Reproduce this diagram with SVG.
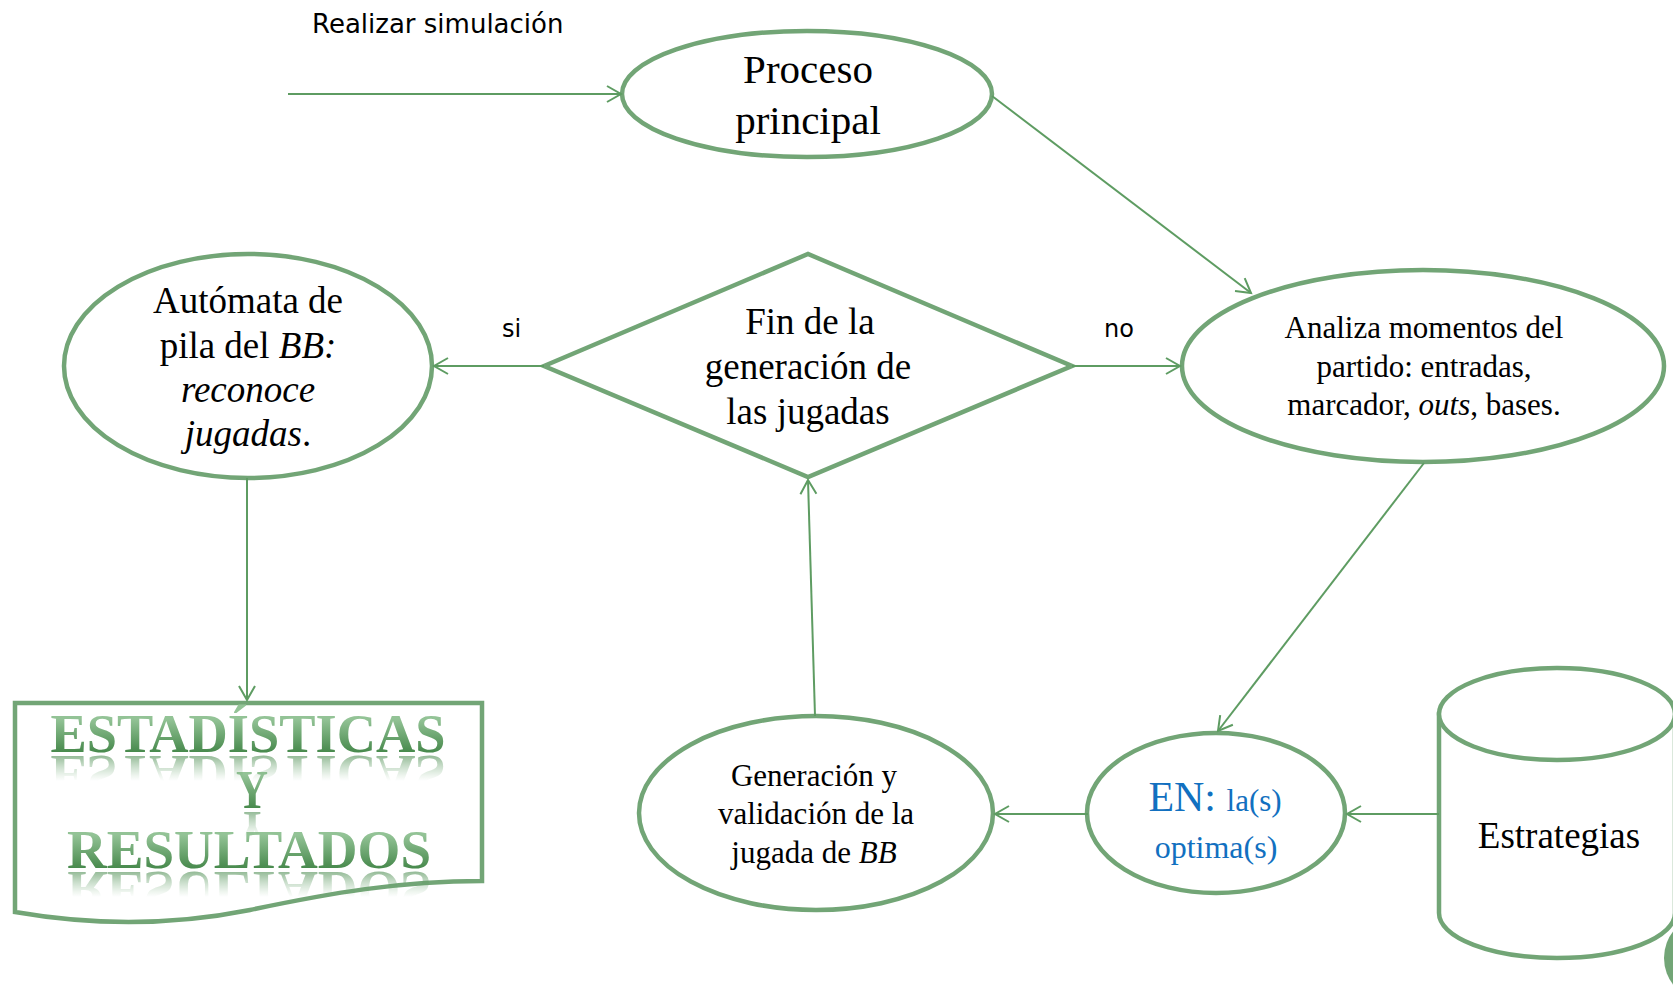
<svg xmlns="http://www.w3.org/2000/svg" xmlns:xlink="http://www.w3.org/1999/xlink" width="1673" height="1004" viewBox="0 0 1673 1004">
  <style>
    .shape { fill: #ffffff; stroke: #72a576; stroke-width: 4.5; }
    .conn { fill: none; stroke: #5e9c62; stroke-width: 2; marker-end: url(#arr); }
    .serif { font-family: "Liberation Serif", "Times New Roman", serif; fill: #000000; text-anchor: middle; }
    .sans { font-family: "DejaVu Sans", Verdana, sans-serif; fill: #000000; }
    .blue { fill: #1270c0; }
    .title { font-family: "Liberation Serif", "Times New Roman", serif; font-weight: bold; font-size: 54px; text-anchor: middle; fill: url(#titleGrad); }
  </style>
  <defs>
    <marker id="arr" markerWidth="20" markerHeight="20" refX="16" refY="10" orient="auto" markerUnits="userSpaceOnUse" viewBox="0 0 20 20">
      <path d="M2,2 L16,10 L2,18" fill="none" stroke="#5e9c62" stroke-width="2"/>
    </marker>
    <linearGradient id="titleGrad" x1="0" y1="0" x2="0" y2="1">
      <stop offset="0.25" stop-color="#93c396"/>
      <stop offset="0.8" stop-color="#488a4d"/>
    </linearGradient>
    <linearGradient id="fade" x1="0" y1="0" x2="0" y2="1">
      <stop offset="0" stop-color="#ffffff" stop-opacity="0.6"/>
      <stop offset="1" stop-color="#ffffff" stop-opacity="0"/>
    </linearGradient>
    <mask id="refl1" maskUnits="userSpaceOnUse" x="0" y="750" width="500" height="40">
      <rect x="0" y="755" width="500" height="26" fill="url(#fade)"/>
    </mask>
    <mask id="refl2" maskUnits="userSpaceOnUse" x="0" y="806" width="500" height="40">
      <rect x="0" y="811" width="500" height="26" fill="url(#fade)"/>
    </mask>
    <mask id="refl3" maskUnits="userSpaceOnUse" x="0" y="866" width="500" height="40">
      <rect x="0" y="871" width="500" height="26" fill="url(#fade)"/>
    </mask>
  </defs>

  <rect width="1673" height="1004" fill="#ffffff"/>

  <text class="sans" x="312" y="33" font-size="26">Realizar simulación</text>
  <text class="sans" x="502" y="337" font-size="24">si</text>
  <text class="sans" x="1104" y="337" font-size="24">no</text>

  <g id="proceso">
    <ellipse class="shape" cx="807" cy="94" rx="185" ry="63"/>
    <text class="serif" x="808" y="83" font-size="41">Proceso</text>
    <text class="serif" x="808" y="134" font-size="41">principal</text>
  </g>

  <g id="fin-generacion">
    <polygon class="shape" points="544,366 808,254 1072,366 808,477"/>
    <text class="serif" x="810" y="334" font-size="37">Fin de la</text>
    <text class="serif" x="808" y="379" font-size="37">generación de</text>
    <text class="serif" x="808" y="424" font-size="37">las jugadas</text>
  </g>

  <g id="automata">
    <ellipse class="shape" cx="248" cy="366" rx="184" ry="112"/>
    <text class="serif" x="248" y="313" font-size="37">Autómata de</text>
    <text class="serif" x="248" y="358" font-size="37">pila del <tspan font-style="italic">BB:</tspan></text>
    <text class="serif" x="248" y="402" font-size="37" font-style="italic">reconoce</text>
    <text class="serif" x="248" y="446" font-size="37"><tspan font-style="italic">jugadas</tspan>.</text>
  </g>

  <g id="analiza">
    <ellipse class="shape" cx="1423" cy="366" rx="241" ry="96"/>
    <text class="serif" x="1424" y="338" font-size="31">Analiza momentos del</text>
    <text class="serif" x="1424" y="377" font-size="31">partido: entradas,</text>
    <text class="serif" x="1424" y="415" font-size="31">marcador, <tspan font-style="italic">outs</tspan>, bases.</text>
  </g>

  <g id="en-optimas">
    <ellipse class="shape" cx="1216" cy="813" rx="129" ry="80"/>
    <text class="serif blue" x="1215" y="811" font-size="31"><tspan font-size="42">EN: </tspan>la(s)</text>
    <text class="serif blue" x="1216" y="858" font-size="32">optima(s)</text>
  </g>

  <g id="generacion">
    <ellipse class="shape" cx="816" cy="813" rx="177" ry="97"/>
    <text class="serif" x="814" y="786" font-size="31">Generación y</text>
    <text class="serif" x="816" y="824" font-size="31">validación de la</text>
    <text class="serif" x="814" y="863" font-size="31">jugada de <tspan font-style="italic">BB</tspan></text>
  </g>

  <g id="estrategias">
    <path class="shape" d="M1439,714 L1439,913 A118,45 0 0 0 1675,913 L1675,714 Z"/>
    <ellipse class="shape" cx="1557" cy="714" rx="118" ry="46"/>
    <text class="serif" x="1559" y="848" font-size="37">Estrategias</text>
    <ellipse cx="1700" cy="958" rx="36" ry="40" fill="#72a576"/>
  </g>

  <g id="estadisticas">
    <path class="shape" d="M15,703 L482,703 L482,881 C400,881 330,893 250,910 C170,926 90,925 15,912 Z"/>
    <text id="t1" class="title" x="248" y="752" textLength="395" lengthAdjust="spacingAndGlyphs">ESTADÍSTICAS</text>
    <text id="t2" class="title" x="252" y="808" textLength="32" lengthAdjust="spacingAndGlyphs">Y</text>
    <text id="t3" class="title" x="249" y="868" textLength="364" lengthAdjust="spacingAndGlyphs">RESULTADOS</text>
    <g mask="url(#refl1)"><use xlink:href="#t1" transform="translate(0,1508) scale(1,-1)"/></g>
    <g mask="url(#refl2)"><use xlink:href="#t2" transform="translate(0,1620) scale(1,-1)"/></g>
    <g mask="url(#refl3)"><use xlink:href="#t3" transform="translate(0,1740) scale(1,-1)"/></g>
  </g>

  <g id="connectors">
    <line class="conn" x1="288" y1="94" x2="621" y2="94"/>
    <line class="conn" x1="992" y1="96" x2="1251" y2="293"/>
    <line class="conn" x1="544" y1="366" x2="434" y2="366"/>
    <line class="conn" x1="1072" y1="366" x2="1180" y2="366"/>
    <line class="conn" x1="1424" y1="463" x2="1218" y2="731"/>
    <line class="conn" x1="1439" y1="814" x2="1347" y2="814"/>
    <line class="conn" x1="1088" y1="814" x2="995" y2="814"/>
    <line class="conn" x1="815" y1="716" x2="808" y2="480"/>
    <line class="conn" x1="247" y1="478" x2="247" y2="700"/>
  </g>
</svg>
